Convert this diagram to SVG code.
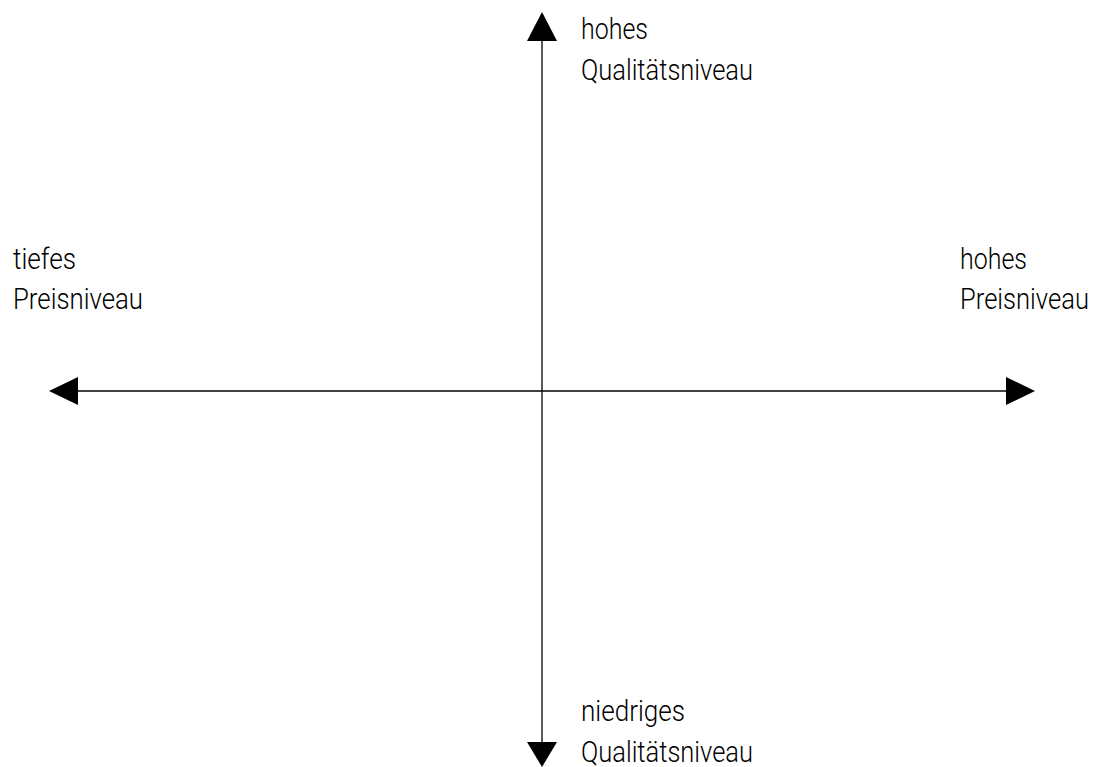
<svg xmlns="http://www.w3.org/2000/svg" width="1098" height="767" viewBox="0 0 1098 767">
<style>
.ax{stroke:#000;stroke-width:1.3;fill:none}
.ah{fill:#000;stroke:none}
text{font-family:Roboto,Lato,Inter,"DejaVu Sans",sans-serif;font-weight:300;font-size:30px;fill:#000}
</style>
<rect width="1098" height="767" fill="#fff"/>
<g id="connectors">
<line class="ax" x1="78" y1="391" x2="1006" y2="391"/>
<line class="ax" x1="542" y1="41" x2="542" y2="742"/>
<polygon class="ah" points="49,391 78,377 78,405"/>
<polygon class="ah" points="1035,391 1006,377 1006,405"/>
<polygon class="ah" points="542,12 527,41 557,41"/>
<polygon class="ah" points="542,767 527,742 557,742"/>
</g>
<g id="top-label">
<text x="581" y="39" textLength="67" lengthAdjust="spacingAndGlyphs">hohes</text>
<text x="581" y="80" textLength="172" lengthAdjust="spacingAndGlyphs">Qualitätsniveau</text>
</g>
<g id="bottom-label">
<text x="581" y="721" textLength="104" lengthAdjust="spacingAndGlyphs">niedriges</text>
<text x="581" y="762" textLength="172" lengthAdjust="spacingAndGlyphs">Qualitätsniveau</text>
</g>
<g id="left-label">
<text x="13" y="269" textLength="63" lengthAdjust="spacingAndGlyphs">tiefes</text>
<text x="13" y="309" textLength="130" lengthAdjust="spacingAndGlyphs">Preisniveau</text>
</g>
<g id="right-label">
<text x="960" y="269" textLength="67" lengthAdjust="spacingAndGlyphs">hohes</text>
<text x="960" y="309" textLength="129" lengthAdjust="spacingAndGlyphs">Preisniveau</text>
</g>
</svg>
